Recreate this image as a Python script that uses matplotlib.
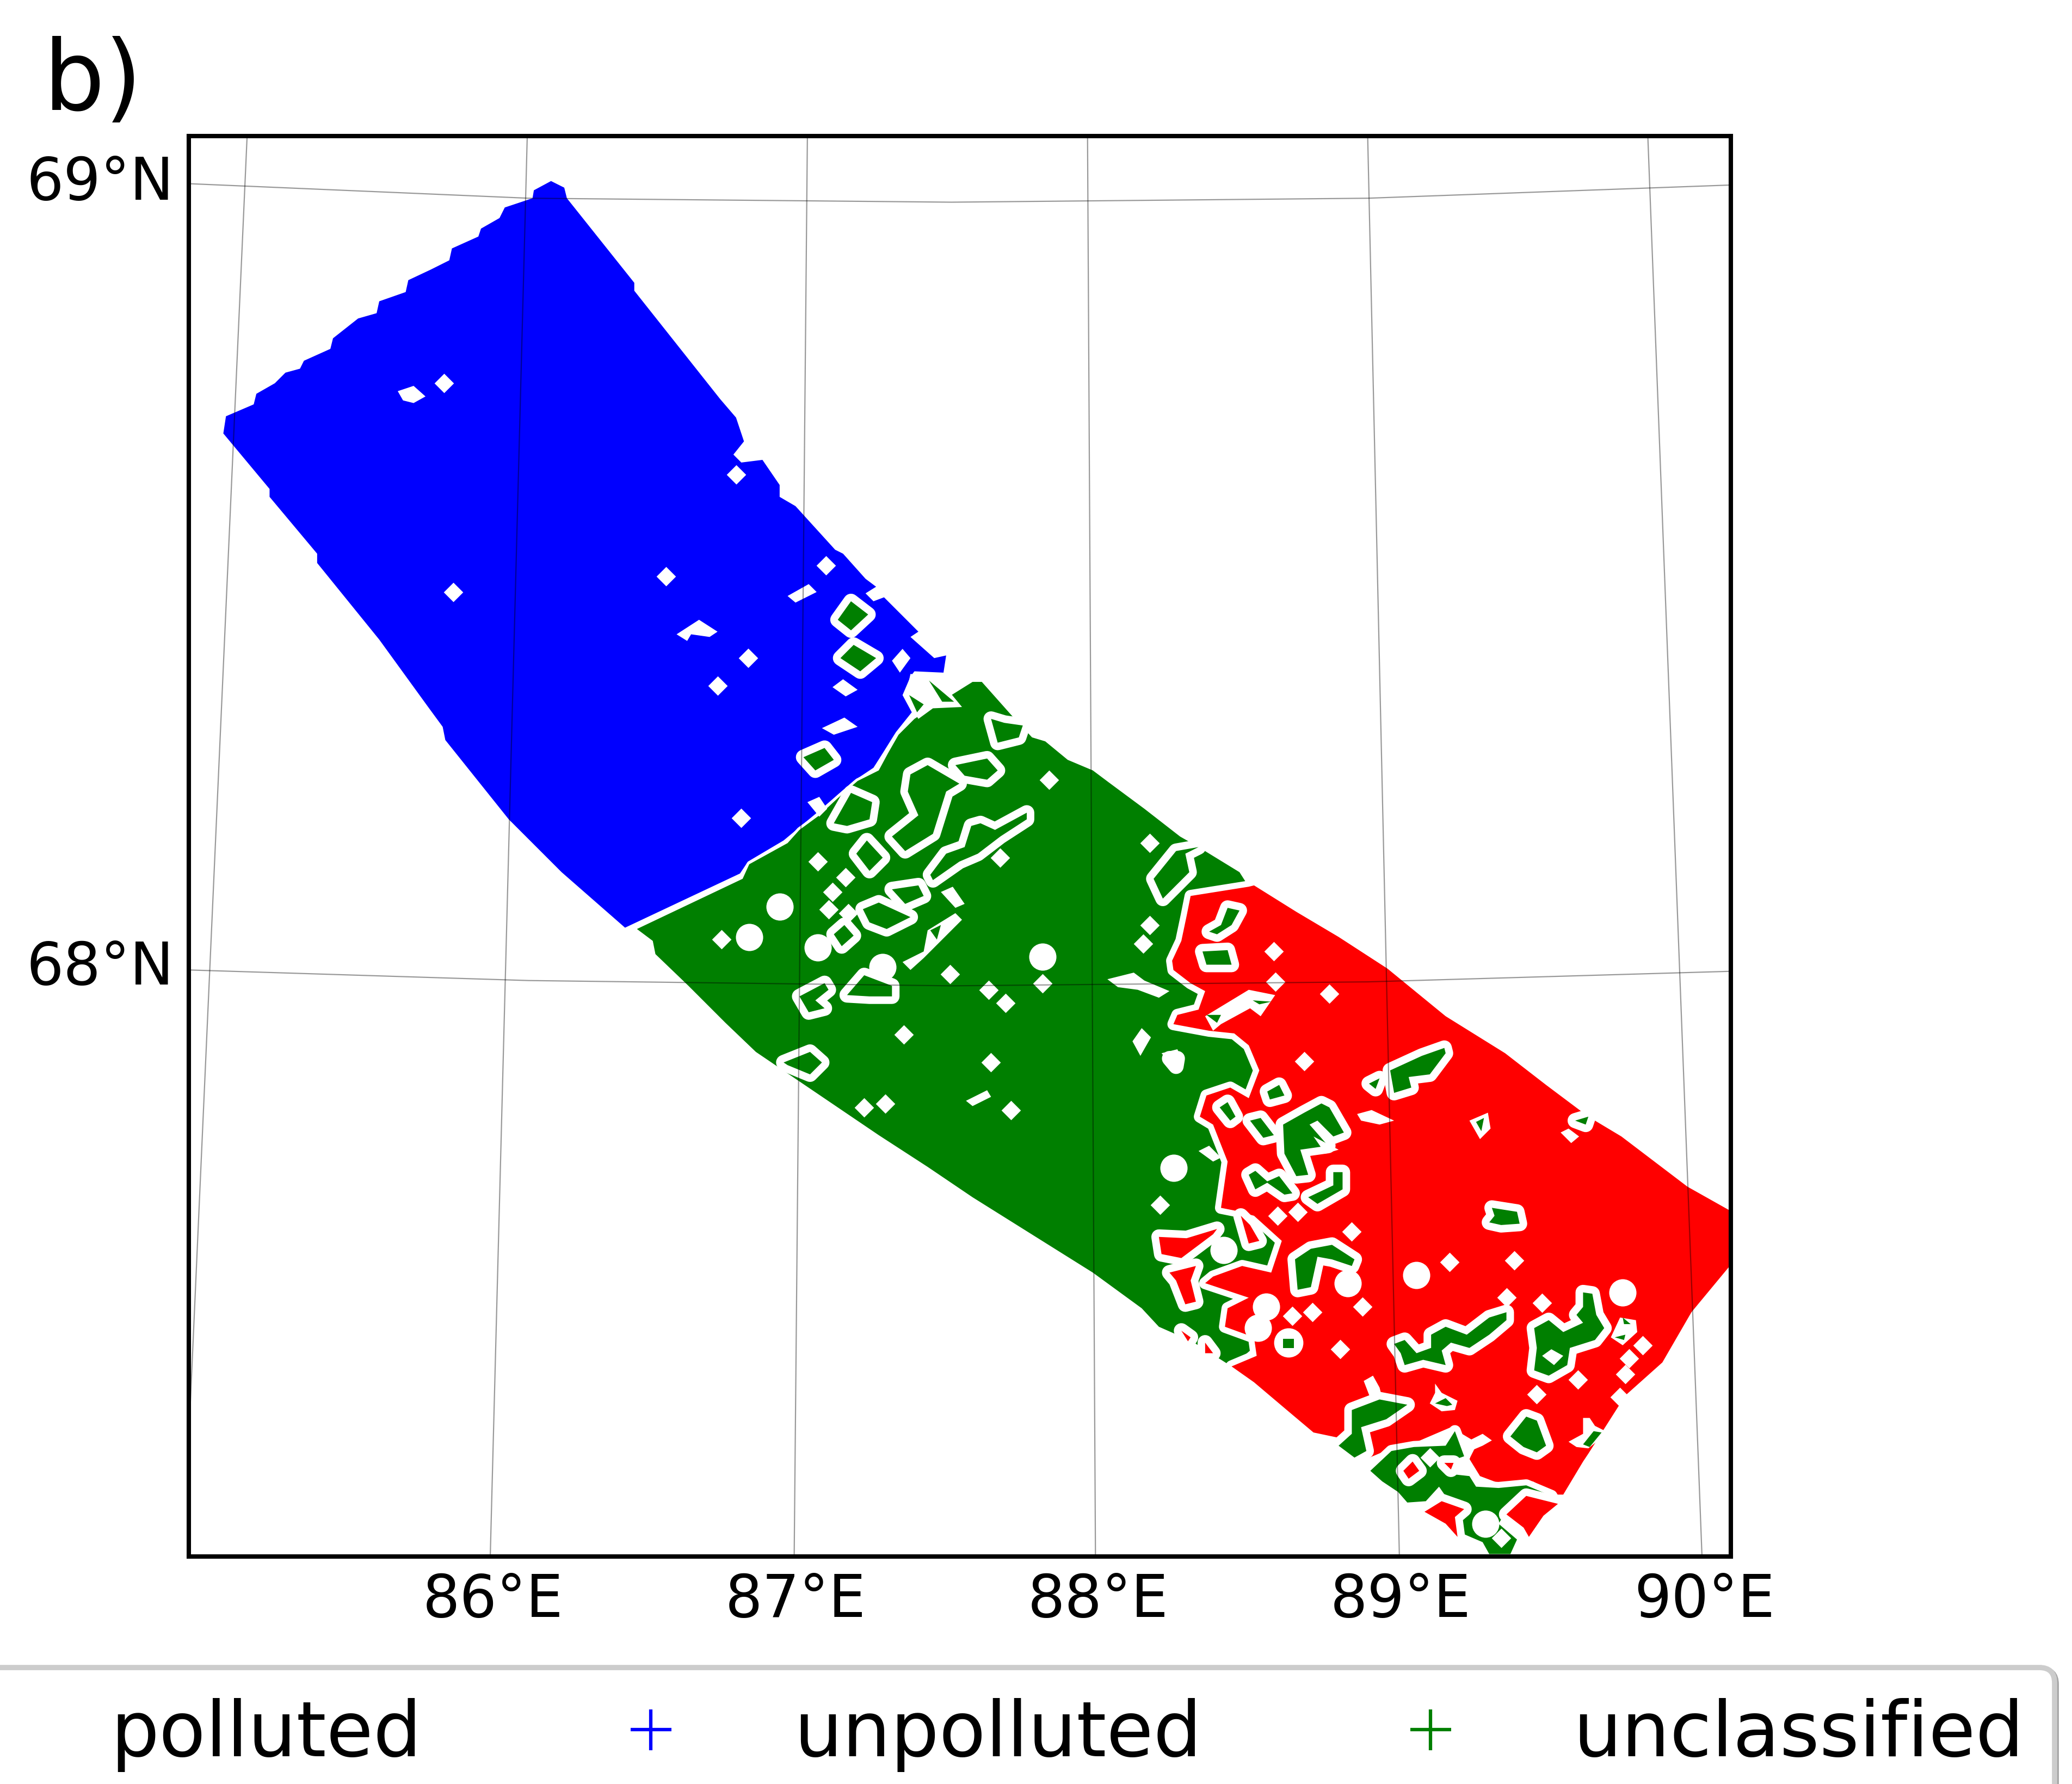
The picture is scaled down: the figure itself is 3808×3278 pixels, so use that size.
import matplotlib
matplotlib.use("Agg")
import matplotlib.pyplot as plt
from matplotlib.lines import Line2D

# map coordinates of the frame
x_left, x_right = 143, 1310
y_bottom, y_top = 1178, 103

# === graticule ===
meridians_x = [[187, 143], [399, 371], [611, 601], [823, 829], [1035, 1059], [1247, 1288]]
meridians_y = [[103, 1085], [103, 1178], [103, 1178], [103, 1178], [103, 1178], [103, 1178]]
parallels_x = [143, 400, 720, 1035, 1310]
parallel_69 = [139, 150, 153, 150, 140]
parallel_68 = [734, 742, 746, 743, 735]
lon_ticks = [373, 602, 831, 1060, 1290]
lon_labels = ["86°E", "87°E", "88°E", "89°E", "90°E"]
lat_ticks = [134, 728]
lat_labels = ["69°N", "68°N"]
legend_labels = ["polluted", "unpolluted", "unclassified"]

# === outlines of the three classes ===
unpolluted_area = [(417, 137), (427, 142), (429, 150), (480, 214), (480, 220), (545, 302), (557, 316), (563, 334),
                   (555, 344), (561, 350), (577, 348), (590, 367), (590, 376), (602, 383), (632, 416), (638, 419),
                   (655, 438), (663, 444), (655, 449), (661, 455), (669, 452), (695, 478), (689, 482), (707, 498),
                   (716, 496), (714, 509), (692, 508), (689, 512), (683, 526), (690, 539), (678, 554), (668, 570),
                   (661, 581), (646, 591), (631, 604), (617, 616), (593, 636), (566, 652), (560, 661), (473, 702),
                   (425, 660), (395, 630), (385, 620), (337, 560), (335, 550), (324, 535), (287, 484), (240, 426),
                   (240, 419), (204, 376), (204, 370), (169, 328), (171, 315), (192, 306), (194, 298), (208, 290),
                   (216, 282), (227, 279), (230, 273), (250, 264), (252, 256), (271, 241), (285, 237), (287, 228),
                   (307, 221), (309, 212), (326, 204), (340, 197), (342, 188), (362, 179), (364, 173), (378, 165),
                   (382, 157), (403, 150), (404, 144)]

unclassified_area = [(482, 703), (562, 665), (567, 654), (596, 638), (605, 628), (620, 617), (634, 604), (649, 591),
                     (665, 583), (672, 570), (680, 556), (692, 544), (704, 536), (736, 516), (743, 516), (767, 543),
                     (781, 558), (791, 561), (808, 575), (827, 583), (839, 592), (866, 612), (893, 633), (907, 641),
                     (938, 660), (945, 671), (960, 800), (975, 960), (960, 1010), (932, 1034), (902, 1015),
                     (877, 1004), (864, 990), (827, 963), (736, 906), (702, 883), (665, 859), (634, 838), (603, 817),
                     (572, 796), (549, 774), (521, 746), (496, 722), (494, 712)]

polluted_area = [(945, 671), (949, 670), (981, 690), (1013, 709), (1050, 733), (1094, 769), (1139, 797), (1170, 821),
                 (1202, 845), (1227, 860), (1277, 898), (1309, 916), (1309, 958), (1280, 993), (1258, 1031),
                 (1230, 1056), (1202, 1100), (1198, 1106), (1183, 1131), (1177, 1131), (1160, 1121), (1136, 1123),
                 (1120, 1117), (1112, 1104), (1118, 1092), (1098, 1080), (1070, 1092), (1053, 1096), (1034, 1104),
                 (1013, 1088), (994, 1084), (975, 1068), (949, 1046), (932, 1034), (951, 1026), (949, 1012),
                 (927, 1004), (929, 990), (945, 982), (912, 971), (918, 966), (940, 958), (962, 963), (970, 939),
                 (949, 920), (934, 916), (924, 914), (929, 879), (918, 851), (908, 845), (913, 829), (931, 823),
                 (945, 831), (953, 810), (945, 791), (934, 782), (915, 780), (888, 775), (891, 768), (907, 764),
                 (912, 750), (901, 744), (888, 734), (887, 727), (894, 712), (898, 693), (901, 678)]

south_tip = [(1037, 1113), (1053, 1098), (1070, 1095), (1094, 1094), (1101, 1083), (1108, 1102), (1091, 1108),
             (1094, 1115), (1112, 1117), (1117, 1125), (1134, 1126), (1155, 1124), (1174, 1132), (1177, 1137),
             (1160, 1130), (1141, 1142), (1134, 1153), (1148, 1165), (1143, 1176), (1127, 1176), (1122, 1167),
             (1108, 1161), (1105, 1148), (1098, 1138), (1089, 1125), (1079, 1136), (1065, 1137), (1058, 1129),
             (1046, 1121)]

# === unclassified cells inside the other classes, white rim ===
green_islands = [
    [(1013, 1094), (1023, 1085), (1023, 1067), (1044, 1059), (1065, 1063), (1049, 1074), (1030, 1080), (1034, 1098), (1025, 1103)],
    [(1055, 1017), (1063, 1014), (1072, 1024), (1083, 1020), (1083, 1010), (1094, 1004), (1110, 1010), (1127, 997), (1140, 993),
     (1140, 999), (1127, 1010), (1112, 1020), (1098, 1016), (1091, 1022), (1094, 1033), (1077, 1029), (1063, 1033), (1060, 1024)],
    [(1161, 1005), (1172, 999), (1183, 1008), (1198, 1001), (1193, 995), (1198, 989), (1198, 978), (1205, 979), (1208, 995),
     (1214, 1005), (1207, 1014), (1188, 1020), (1186, 1033), (1172, 1041), (1161, 1037), (1163, 1020)],
    [(1143, 1087), (1155, 1072), (1163, 1075), (1170, 1094), (1163, 1099), (1153, 1095)],
    [(1129, 914), (1148, 917), (1150, 926), (1136, 927), (1127, 925), (1131, 920)],
    [(980, 953), (992, 945), (1008, 942), (1025, 953), (1023, 958), (1008, 953), (997, 951), (992, 974), (982, 976)],
    [(1052, 810), (1076, 799), (1093, 793), (1094, 797), (1082, 813), (1066, 815), (1068, 823), (1055, 827)],
    [(1036, 820), (1044, 816), (1041, 824)],
    [(1192, 848), (1202, 845), (1200, 851)],
    [(915, 705), (924, 700), (929, 687), (938, 689), (932, 700), (921, 707)],
    [(910, 720), (929, 719), (932, 730), (913, 730)],
    [(923, 838), (929, 834), (935, 845), (931, 848)],
    [(946, 848), (954, 846), (964, 859), (956, 861)],
    [(971, 851), (987, 842), (1000, 835), (1006, 838), (1017, 857), (1009, 860), (997, 848), (991, 851), (1005, 867), (984, 870),
     (990, 889), (981, 890), (972, 873)],
    [(959, 826), (968, 821), (972, 829), (961, 832)],
    [(945, 889), (950, 886), (959, 894), (968, 890), (978, 903), (972, 904), (959, 895), (950, 900)],
    [(990, 906), (1009, 897), (1009, 887), (1016, 887), (1016, 900), (997, 911)],
    [(873, 665), (890, 644), (907, 641), (897, 646), (900, 660), (880, 680)],
    [(689, 586), (702, 579), (726, 593), (716, 599), (706, 631), (685, 644), (675, 633), (695, 617), (687, 599)],
    [(723, 579), (747, 574), (755, 583), (747, 590), (730, 587)],
    [(704, 662), (716, 646), (730, 641), (735, 625), (742, 623), (753, 628), (777, 615), (777, 620), (757, 633), (740, 646), (726, 652), (706, 666)],
    [(648, 646), (656, 636), (668, 649), (658, 659)],
    [(631, 623), (644, 600), (660, 607), (658, 620), (641, 625)],
    [(675, 673), (695, 670), (699, 678), (685, 684)],
    [(653, 688), (665, 683), (689, 694), (671, 703), (658, 698)],
    [(631, 707), (639, 700), (646, 708), (637, 716)],
    [(605, 754), (624, 744), (627, 749), (617, 757), (624, 763), (612, 766)],
    [(641, 753), (654, 738), (675, 746), (675, 754), (658, 754)],
    [(593, 804), (613, 796), (622, 804), (613, 813), (596, 806)],
    [(750, 544), (760, 547), (774, 549), (771, 558), (755, 562)],
    [(608, 573), (624, 566), (631, 575), (617, 583)],
    [(634, 469), (644, 455), (657, 465), (644, 477)],
    [(636, 498), (646, 488), (663, 498), (651, 508)],
]

# === polluted cells inside the unclassified area, white rim ===
red_islands = [
    [(1078, 1144), (1091, 1136), (1108, 1142), (1101, 1148), (1103, 1163), (1094, 1153)],
    [(1140, 1146), (1155, 1132), (1179, 1138), (1168, 1147), (1157, 1163), (1153, 1156)],
    [(877, 936), (898, 937), (921, 930), (918, 934), (894, 952), (879, 949)],
    [(885, 963), (905, 958), (901, 969), (905, 985), (897, 987), (890, 969)],
    [(939, 920), (946, 927), (953, 939), (945, 941)],
    [(894, 1007), (901, 1012), (899, 1015)],
    [(912, 1016), (918, 1024), (912, 1024)],
    [(885, 801), (891, 801), (890, 807)],
    [(1062, 1113), (1069, 1106), (1074, 1113), (1066, 1119)],
    [(1093, 1107), (1100, 1107), (1098, 1112)],
]

# === gaps without data ===
white_gaps = [
    [(1108, 1100), (1122, 1094), (1129, 1090), (1122, 1085), (1110, 1091)],
    [(1032, 1045), (1039, 1041), (1044, 1050), (1046, 1058), (1037, 1058)],
    [(1167, 1026), (1174, 1021), (1183, 1026), (1176, 1033)],
    [(1219, 1012), (1226, 997), (1238, 999), (1239, 1008), (1228, 1018)],
    [(1086, 1047), (1091, 1054), (1103, 1060), (1101, 1067), (1091, 1068), (1082, 1062), (1086, 1054)],
    [(1187, 1091), (1198, 1085), (1198, 1073), (1203, 1073), (1207, 1079), (1217, 1084), (1202, 1096), (1193, 1095)],
    [(1112, 848), (1126, 842), (1128, 854), (1120, 862)],
    [(1027, 843), (1038, 840), (1055, 848), (1044, 851), (1030, 848)],
    [(1181, 857), (1187, 854), (1195, 860), (1189, 865)],
    [(912, 769), (945, 749), (965, 753), (954, 769), (946, 763), (924, 775), (918, 780)],
    [(994, 860), (1013, 870), (1003, 873)],
    [(879, 797), (891, 794), (896, 805), (890, 810)],
    [(907, 871), (915, 867), (924, 876), (918, 879)],
    [(857, 788), (864, 778), (871, 785), (863, 799)],
    [(838, 741), (858, 736), (866, 742), (885, 750), (877, 755), (861, 749), (846, 747)],
    [(712, 675), (721, 671), (730, 684), (723, 687)],
    [(702, 704), (723, 691), (728, 696), (712, 712), (699, 725), (689, 734), (683, 728), (699, 720)],
    [(689, 510), (709, 512), (728, 535), (706, 536), (695, 544), (685, 528)],
    [(675, 500), (683, 491), (689, 498), (681, 509)],
    [(630, 520), (638, 514), (649, 522), (640, 527)],
    [(596, 451), (612, 442), (618, 448), (602, 456)],
    [(512, 480), (529, 469), (543, 478), (537, 482), (523, 480), (520, 485)],
    [(301, 296), (313, 292), (322, 300), (313, 305), (305, 303)],
    [(622, 551), (639, 543), (649, 550), (631, 556)],
    [(611, 607), (620, 603), (626, 612), (620, 618)],
    [(731, 833), (747, 825), (750, 830), (736, 837)],
]

# green spots that sit inside the white gaps
green_in_gaps = [
    [(1228, 997), (1234, 1002), (1229, 1002)],
    [(1222, 1012), (1230, 1010), (1229, 1014)],
    [(1086, 1062), (1094, 1058), (1099, 1063), (1095, 1064)],
    [(1198, 1093), (1206, 1083), (1212, 1084), (1203, 1095)],
    [(1117, 849), (1123, 846), (1121, 856)],
    [(913, 768), (924, 768), (921, 774)],
    [(948, 757), (962, 758), (953, 760)],
    [(704, 704), (712, 700), (709, 711)],
    [(703, 515), (722, 531), (713, 531)],
    [(688, 526), (699, 533), (694, 539)],
    [(971, 1013), (979, 1013), (979, 1020), (971, 1020)],
]

# small single cells
cell_x = [1097, 1146, 1140, 1031, 978, 993, 1014, 1163, 1194, 1226, 1230, 1233, 1243, 1167, 967, 982, 1023, 964, 965,
          1006, 987, 878, 870, 865, 1082, 1136, 543, 566, 504, 625, 343, 336, 557, 561, 619, 640, 630, 627, 642,
          546, 719, 789, 748, 761, 684, 750, 765, 654, 670, 794, 757, 870]
cell_y = [955, 954, 982, 989, 996, 993, 1021, 1055, 1044, 1057, 1040, 1028, 1018, 986, 920, 917, 932, 720, 743,
          752, 803, 912, 700, 714, 1103, 1164, 519, 498, 436, 428, 448, 290, 359, 619, 652, 664, 675, 688, 691,
          711, 737, 744, 749, 759, 783, 804, 840, 838, 835, 590, 649, 638]

# larger round gaps
blob_x = [1072, 1020, 958, 1228, 952, 926, 888, 1124, 590, 567, 619, 668, 789, 975]
blob_y = [965, 971, 989, 978, 1005, 946, 884, 1153, 686, 709, 717, 732, 724, 1016]

# === figure ===
plt.rcParams["font.family"] = "DejaVu Sans"
fig = plt.figure(figsize=(38.08, 32.78), dpi=100)
ax = fig.add_axes([143 / 1568, 1 - 1178 / 1350, 1167 / 1568, 1075 / 1350])


def fill_region(pts, color, rim=0.0, z=2):
    # the white rim goes under the face so that it only shows outside the shape
    xs = [p[0] for p in pts]
    ys = [p[1] for p in pts]
    if rim:
        ax.fill(xs, ys, facecolor="white", edgecolor="white", linewidth=rim, joinstyle="round", zorder=z)
    ax.fill(xs, ys, facecolor=color, edgecolor="none", zorder=z + 0.1)


fill_region(unpolluted_area, "#0000ff")
fill_region(unclassified_area, "#007f00", rim=7, z=3)
fill_region(polluted_area, "#ff0000", rim=16, z=4)
fill_region(south_tip, "#007f00", rim=16, z=5)
for poly in green_islands:
    fill_region(poly, "#007f00", rim=20, z=6)
for poly in red_islands:
    fill_region(poly, "#ff0000", rim=20, z=6)
for poly in white_gaps:
    fill_region(poly, "white", z=7)
for poly in green_in_gaps:
    fill_region(poly, "#007f00", z=8)
ax.scatter(blob_x[:-1], blob_y[:-1], s=1300, c="white", marker="o", linewidths=0, zorder=7)
ax.scatter(blob_x[-1:], blob_y[-1:], s=1500, c="white", marker="o", linewidths=0, zorder=7)
ax.scatter(cell_x, cell_y, s=330, c="white", marker="D", linewidths=0, zorder=7)

# graticule on top of everything
for mx, my in zip(meridians_x, meridians_y):
    ax.plot(mx, my, color="black", lw=1.6, alpha=0.4, zorder=9)
ax.plot(parallels_x, parallel_69, color="black", lw=1.6, alpha=0.4, zorder=9)
ax.plot(parallels_x, parallel_68, color="black", lw=1.6, alpha=0.4, zorder=9)

ax.set_xlim(x_left, x_right)
ax.set_ylim(y_bottom, y_top)
ax.set_xticks(lon_ticks)
ax.set_xticklabels(lon_labels)
ax.set_yticks(lat_ticks)
ax.set_yticklabels(lat_labels)
ax.tick_params(length=0, labelsize=77.5, pad=20)
for sp in ax.spines.values():
    sp.set_linewidth(5.8)
    sp.set_zorder(12)

fig.text(33 / 1568, 1 - 83 / 1350, "b)", fontsize=128, va="baseline")

handles = [Line2D([], [], ls="none", marker="+", ms=54, mew=4.5, color=c) for c in ["#ff0000", "#0000ff", "#007f00"]]
leg = fig.legend(handles, legend_labels, ncol=3, loc="upper left", bbox_to_anchor=(-255 / 3808, 1 - 3064 / 3278),
                 borderaxespad=0, fontsize=101, handlelength=2, handletextpad=0.87, columnspacing=2.0,
                 fancybox=True, shadow=True, framealpha=1)
leg.get_frame().set_linewidth(7)
leg.get_frame().set_edgecolor("0.8")

fig.savefig("out.png", dpi=100)
